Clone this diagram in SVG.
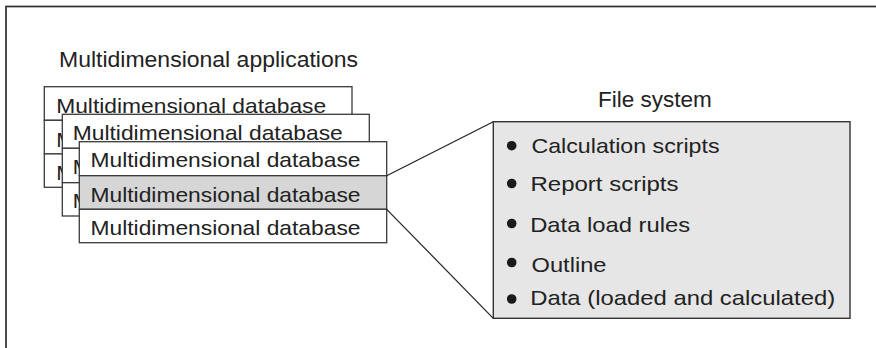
<svg xmlns="http://www.w3.org/2000/svg" width="876" height="348" viewBox="0 0 876 348">
<style>
text { font-family: "Liberation Sans", Arial, sans-serif; fill: #222; }
.t { font-size: 21px; }
.lbl { font-size: 22.5px; }
.box { fill: #ffffff; stroke: #3a3a3a; stroke-width: 1.3; }
.hl { fill: #d6d6d6; stroke: #3a3a3a; stroke-width: 1.3; }
.fs { fill: #e6e6e6; stroke: #333; stroke-width: 1.4; }
.conn { stroke: #222; stroke-width: 1.2; fill: none; }
.bul { fill: #1a1a1a; }
</style>
<defs>
  <clipPath id="clip1"><rect x="40" y="115" width="22.3" height="75"/></clipPath>
  <clipPath id="clip2"><rect x="58" y="145" width="21.3" height="75"/></clipPath>
</defs>
<rect x="0" y="0" width="876" height="348" fill="#ffffff"/>
<rect id="frame" x="6" y="6.5" width="900" height="400" fill="none" stroke="#2e2e2e" stroke-width="1.7"/>
<text id="label-apps" class="lbl" x="59" y="66.5" textLength="299" lengthAdjust="spacingAndGlyphs">Multidimensional applications</text>
<text id="label-fs" class="lbl" x="598" y="106.5">File system</text>
<g id="app1">
  <rect class="box" x="44.3" y="86.7" width="307.7" height="33.6"/>
  <rect class="box" x="44.3" y="120.3" width="307.7" height="33.6"/>
  <rect class="box" x="44.3" y="153.9" width="307.7" height="33.4"/>
  <text class="t" x="56.2" y="113.3" textLength="270" lengthAdjust="spacingAndGlyphs">Multidimensional database</text>
  <g clip-path="url(#clip1)">
    <text class="t" x="56.2" y="146.9" textLength="18" lengthAdjust="spacingAndGlyphs">M</text>
    <text class="t" x="56.2" y="180.4" textLength="18" lengthAdjust="spacingAndGlyphs">M</text>
  </g>
</g>
<g id="app2">
  <rect class="box" x="62.3" y="114.3" width="307" height="34"/>
  <rect class="box" x="62.3" y="148.3" width="307" height="34.4"/>
  <rect class="box" x="62.3" y="182.7" width="307" height="33.3"/>
  <text class="t" x="72.8" y="140.2" textLength="270" lengthAdjust="spacingAndGlyphs">Multidimensional database</text>
  <g clip-path="url(#clip2)">
    <text class="t" x="72.8" y="174.2" textLength="18" lengthAdjust="spacingAndGlyphs">M</text>
    <text class="t" x="72.8" y="208.4" textLength="18" lengthAdjust="spacingAndGlyphs">M</text>
  </g>
</g>
<g id="app3">
  <rect class="box" x="79.3" y="141.7" width="307.4" height="34"/>
  <rect class="hl" x="79.3" y="175.7" width="307.4" height="33.6"/>
  <rect class="box" x="79.3" y="209.3" width="307.4" height="33.4"/>
  <text class="t" x="90.5" y="167.4" textLength="270" lengthAdjust="spacingAndGlyphs">Multidimensional database</text>
  <text class="t" x="90.5" y="201.5" textLength="270" lengthAdjust="spacingAndGlyphs">Multidimensional database</text>
  <text class="t" x="90.5" y="235" textLength="270" lengthAdjust="spacingAndGlyphs">Multidimensional database</text>
</g>
<g id="connectors">
  <line class="conn" x1="386.7" y1="175.7" x2="493.3" y2="121.7"/>
  <line class="conn" x1="386.7" y1="209.3" x2="493.3" y2="318.3"/>
</g>
<g id="filesystem">
  <rect class="fs" x="493.3" y="121.7" width="356.7" height="196.6"/>
  <circle class="bul" cx="511.7" cy="145.7" r="4.8"/>
  <circle class="bul" cx="511.7" cy="183.5" r="4.8"/>
  <circle class="bul" cx="511.7" cy="223.5" r="4.8"/>
  <circle class="bul" cx="511.7" cy="262.5" r="4.8"/>
  <circle class="bul" cx="511.7" cy="299" r="4.8"/>
  <text class="t" x="531.5" y="153.3" textLength="188" lengthAdjust="spacingAndGlyphs">Calculation scripts</text>
  <text class="t" x="530.5" y="190.7" textLength="148" lengthAdjust="spacingAndGlyphs">Report scripts</text>
  <text class="t" x="530.2" y="231.7" textLength="160" lengthAdjust="spacingAndGlyphs">Data load rules</text>
  <text class="t" x="531.5" y="271.7" textLength="75" lengthAdjust="spacingAndGlyphs">Outline</text>
  <text class="t" x="530.2" y="305" textLength="305" lengthAdjust="spacingAndGlyphs">Data (loaded and calculated)</text>
</g>
</svg>
